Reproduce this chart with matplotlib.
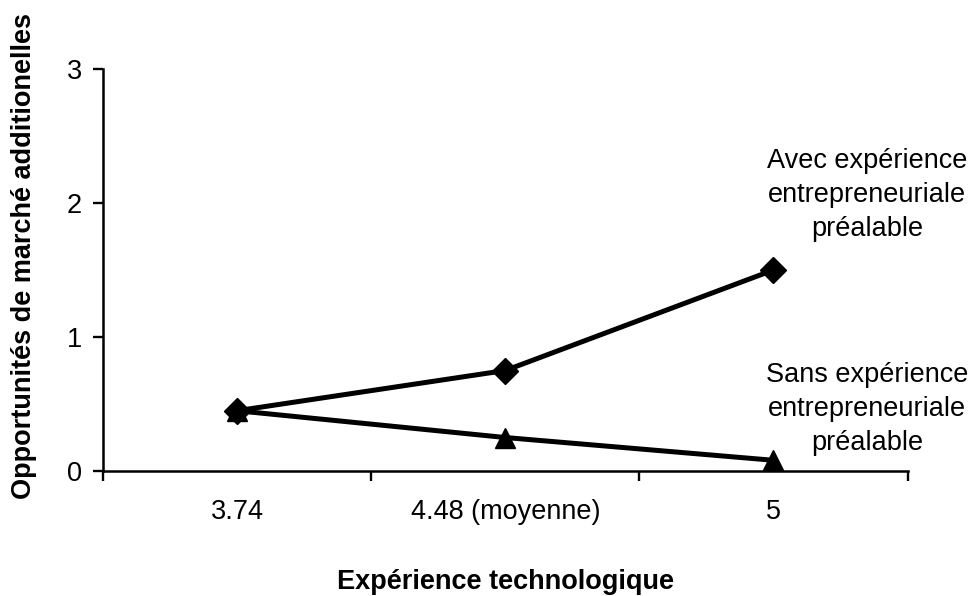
import matplotlib
matplotlib.use("Agg")
import matplotlib.pyplot as plt

# data
categories = ["3.74", "4.48 (moyenne)", "5"]
avec_exp = [0.45, 0.75, 1.5]
sans_exp = [0.45, 0.25, 0.08]
y_ticks = [0, 1, 2, 3]

label_avec = "Avec expérience\nentrepreneuriale\npréalable"
label_sans = "Sans expérience\nentrepreneuriale\npréalable"

plt.rcParams['font.family'] = ['Liberation Sans', 'DejaVu Sans']

fig = plt.figure(figsize=(9.77, 5.96), dpi=100)
ax = fig.add_axes([0.1054, 0.2097, 0.8235, 0.6745])

x = list(range(len(categories)))
ax.plot(x, sans_exp, color='black', lw=3.6, marker='^', ms=15,
        mec='black', mfc='black', zorder=3)
ax.plot(x, avec_exp, color='black', lw=3.6, marker='D', ms=13.5,
        mec='black', mfc='black', zorder=4)

ax.set_xlim(-0.5, len(categories) - 0.5)
ax.set_ylim(0, 3)
ax.set_yticks(y_ticks)
ax.set_yticklabels([str(t) for t in y_ticks])

# category ticks sit between the categories, labels at the centres
ax.set_xticks([-0.5, 0.5, 1.5, 2.5])
ax.set_xticklabels([])
ax.set_xticks(x, minor=True)
ax.set_xticklabels(categories, minor=True)
ax.tick_params(axis='x', which='minor', length=0, pad=20, labelsize=19.5)
ax.tick_params(axis='x', which='major', direction='out', length=7, width=1.7)
ax.tick_params(axis='y', direction='out', length=7, width=1.7, pad=8,
               labelsize=19.5)

for side in ['top', 'right']:
    ax.spines[side].set_visible(False)
for side in ['left', 'bottom']:
    ax.spines[side].set_linewidth(1.8)

ax.set_xlabel("Expérience technologique", fontsize=19.5, fontweight='bold',
              va='center')
ax.xaxis.set_label_coords(0.5, -0.276)
ax.set_ylabel("Opportunités de marché additionelles", fontsize=19.5,
              fontweight='bold', va='center')
ax.yaxis.set_label_coords(-0.098, 0.535)

# series labels written beside the right end of each line
ax.text(2.35, 2.06, label_avec, ha='center', va='center',
        multialignment='center', fontsize=19.5, linespacing=1.4)
ax.text(2.35, 0.46, label_sans, ha='center', va='center',
        multialignment='center', fontsize=19.5, linespacing=1.4)

fig.savefig("out.png", dpi=100)
